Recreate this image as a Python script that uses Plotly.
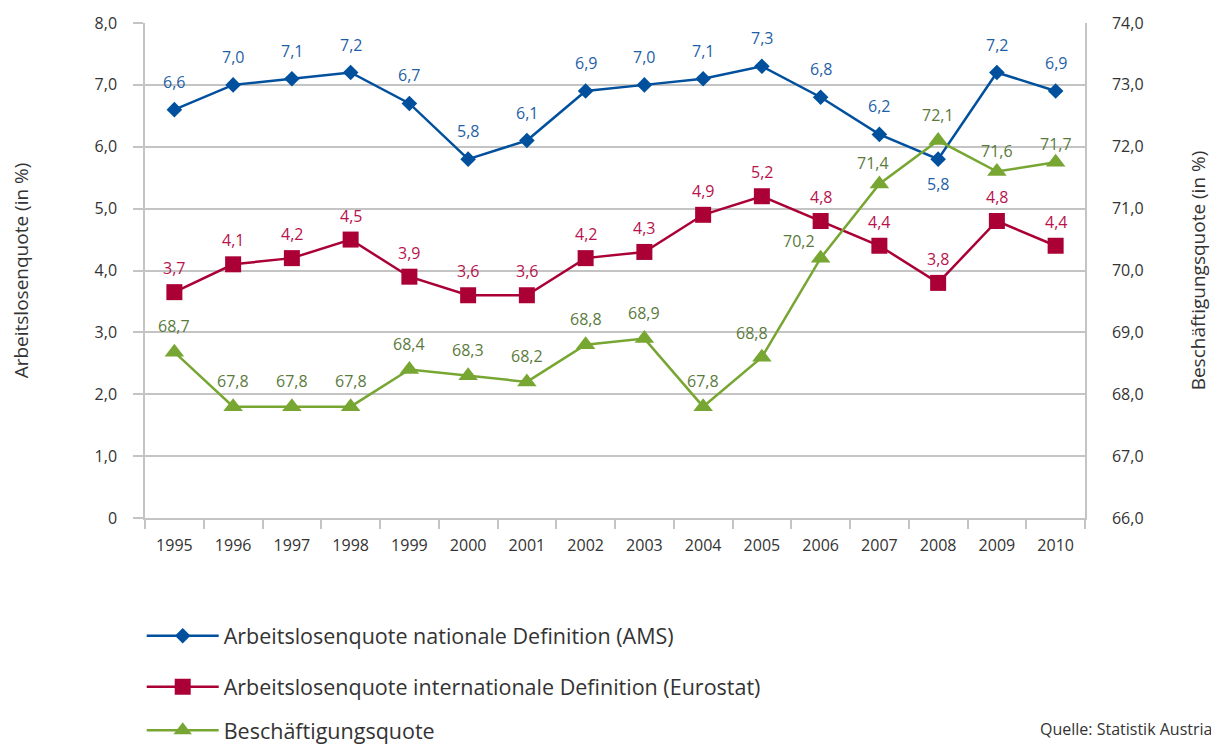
import plotly.graph_objects as go

years = list(range(1995, 2011))
year_labels = [str(y) for y in years]

ams = [6.6, 7.0, 7.1, 7.2, 6.7, 5.8, 6.1, 6.9, 7.0, 7.1, 7.3, 6.8, 6.2, 5.8, 7.2, 6.9]
ams_labels = ["6,6", "7,0", "7,1", "7,2", "6,7", "5,8", "6,1", "6,9", "7,0", "7,1", "7,3", "6,8", "6,2", "5,8", "7,2", "6,9"]

eurostat = [3.65, 4.1, 4.2, 4.5, 3.9, 3.6, 3.6, 4.2, 4.3, 4.9, 5.2, 4.8, 4.4, 3.8, 4.8, 4.4]
eurostat_labels = ["3,7", "4,1", "4,2", "4,5", "3,9", "3,6", "3,6", "4,2", "4,3", "4,9", "5,2", "4,8", "4,4", "3,8", "4,8", "4,4"]

besch = [68.68, 67.8, 67.8, 67.8, 68.4, 68.3, 68.2, 68.8, 68.9, 67.8, 68.6, 70.2, 71.4, 72.1, 71.6, 71.75]
besch_labels = ["68,7", "67,8", "67,8", "67,8", "68,4", "68,3", "68,2", "68,8", "68,9", "67,8", "68,8", "70,2", "71,4", "72,1", "71,6", "71,7"]

left_ticks = [0, 1, 2, 3, 4, 5, 6, 7, 8]
left_ticktext = ["0", "1,0", "2,0", "3,0", "4,0", "5,0", "6,0", "7,0", "8,0"]
right_ticks = [66, 67, 68, 69, 70, 71, 72, 73, 74]
right_ticktext = ["66,0", "67,0", "68,0", "69,0", "70,0", "71,0", "72,0", "73,0", "74,0"]

names = [
    "Arbeitslosenquote nationale Definition (AMS)",
    "Arbeitslosenquote internationale Definition (Eurostat)",
    "Beschäftigungsquote",
]

FONT = "Open Sans"
TXT = "#333333"
GRID = "#c4c4c4"
BLUE, BLUE_T = "#00509d", "#1f5fa6"
RED, RED_T = "#aa0036", "#b8124c"
GREEN, GREEN_T = "#77a632", "#5a7a3c"

fig = go.Figure()
fig.add_trace(go.Scatter(x=years, y=ams, name=names[0], mode="lines+markers",
                         line=dict(color=BLUE, width=2.5),
                         marker=dict(symbol="diamond", size=12, color=BLUE),
                         legend="legend"))
fig.add_trace(go.Scatter(x=years, y=eurostat, name=names[1], mode="lines+markers",
                         line=dict(color=RED, width=2.5),
                         marker=dict(symbol="square", size=16, color=RED),
                         legend="legend2"))
fig.add_trace(go.Scatter(x=years, y=besch, name=names[2], mode="lines+markers",
                         line=dict(color=GREEN, width=2.5),
                         marker=dict(symbol="triangle-up", size=17, color=GREEN),
                         yaxis="y2", legend="legend3"))

annotations = []
# special label offsets (x shift, y shift) in px
special = {
    ("ams", 2008): (0, -25),
    ("besch", 2006): (-22, 17),
    ("besch", 2005): (-10, 24),
    ("besch", 2007): (-6, 21),
    ("besch", 2010): (0, 18),
    ("besch", 2009): (0, 21),
}
for key, vals, labs, col, yref, dy0 in [("ams", ams, ams_labels, BLUE_T, "y", 28),
                                         ("eur", eurostat, eurostat_labels, RED_T, "y", 24),
                                         ("besch", besch, besch_labels, GREEN_T, "y2", 26)]:
    for x, v, t in zip(years, vals, labs):
        dx, dy = special.get((key, x), (0, dy0))
        annotations.append(dict(x=x, y=v, xref="x", yref=yref, text=t, showarrow=False,
                                xshift=dx, yshift=dy,
                                font=dict(family=FONT, size=16, color=col)))

annotations.append(dict(x=1.137, y=-0.426, xref="paper", yref="paper",
                        text="Quelle: Statistik Austria", showarrow=False,
                        xanchor="right", yanchor="middle",
                        font=dict(family=FONT, size=16, color=TXT)))

leg_common = dict(x=-0.0035, xanchor="left", yanchor="middle", bgcolor="rgba(0,0,0,0)",
                  font=dict(family=FONT, size=21.5, color=TXT), itemwidth=72)

# page body adds an 8px offset, so the figure is 8px smaller than the window
fig.update_layout(
    width=1211, height=736,
    margin=dict(l=137, r=134, t=15, b=226, autoexpand=False),
    plot_bgcolor="white", paper_bgcolor="white",
    separators=",.",
    showlegend=True,
    font=dict(family=FONT, color=TXT, size=16),
    legend=dict(y=-0.238, **leg_common),
    legend2=dict(y=-0.341, **leg_common),
    legend3=dict(y=-0.429, **leg_common),
    annotations=annotations,
    xaxis=dict(range=[1994.5, 2010.5], tickvals=years, ticktext=year_labels,
               showgrid=False, ticks="", ticklabelstandoff=12,
               minor=dict(ticks="outside", ticklen=9, tickcolor=GRID, tickwidth=1.5,
                          tick0=1994.5, dtick=1, showgrid=False),
               showline=True, linecolor=GRID, linewidth=1.5, zeroline=False,
               tickfont=dict(family=FONT, size=16, color=TXT)),
    yaxis=dict(range=[0, 8], tickvals=left_ticks, ticktext=left_ticktext,
               showgrid=True, gridcolor=GRID, gridwidth=1.5,
               ticks="outside", ticklen=10, tickcolor=GRID, tickwidth=1.5,
               ticklabelstandoff=13,
               showline=True, linecolor=GRID, linewidth=1.5, zeroline=False,
               tickfont=dict(family=FONT, size=16, color=TXT),
               title=dict(text="Arbeitslosenquote (in %)", standoff=64,
                          font=dict(family=FONT, size=19, color=TXT))),
    yaxis2=dict(range=[66, 74], tickvals=right_ticks, ticktext=right_ticktext,
                overlaying="y", side="right", showgrid=False, zeroline=False,
                ticks="outside", ticklen=22, tickcolor="rgba(0,0,0,0)",
                showline=True, linecolor=GRID, linewidth=1.5,
                tickfont=dict(family=FONT, size=16, color=TXT),
                title=dict(text="Beschäftigungsquote (in %)", standoff=49,
                           font=dict(family=FONT, size=19, color=TXT))),
)

fig.write_html("out.html")
